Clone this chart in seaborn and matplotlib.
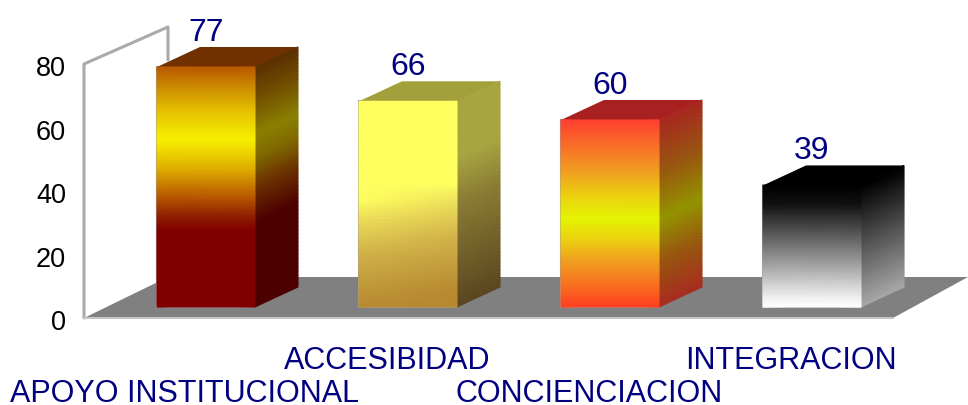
import numpy as np
import matplotlib
matplotlib.use("Agg")
import matplotlib.pyplot as plt
from matplotlib.colors import LinearSegmentedColormap
from matplotlib.patches import Polygon
import seaborn as sns

categories = ["APOYO INSTITUCIONAL", "ACCESIBIDAD", "CONCIENCIACION", "INTEGRACION"]
values = [77, 66, 60, 39]
y_ticks = [0, 20, 40, 60, 80]

# gradient stops, bottom to top of each bar
front_stops = [
    [(0, "#800000"), (0.32, "#800000"), (0.38, "#902000"), (0.46, "#b85800"), (0.58, "#e0b000"),
     (0.7, "#f8f000"), (0.82, "#e4c000"), (0.92, "#cc8a00"), (1, "#b85a00")],
    [(0, "#b88a30"), (0.25, "#d0b048"), (0.45, "#f0e45c"), (0.52, "#ffff60"), (1, "#ffff60")],
    [(0, "#ff4020"), (0.12, "#f87020"), (0.25, "#f0a020"), (0.36, "#ecd010"), (0.47, "#e4f400"),
     (0.6, "#ecd010"), (0.72, "#f0a020"), (0.86, "#f87028"), (1, "#ff4030")],
    [(0, "#ffffff"), (0.08, "#f0f0f0"), (0.85, "#111111"), (1, "#000000")],
]
side_stops = [
    [(0, "#4d0000"), (0.35, "#4d0000"), (0.5, "#6a3000"), (0.62, "#806800"), (0.72, "#8a8000"),
     (0.88, "#704c00"), (1, "#5a3000")],
    [(0, "#5c4620"), (0.5, "#8a7c34"), (0.72, "#a8a440"), (1, "#a8a440")],
    [(0, "#a82c20"), (0.25, "#985810"), (0.47, "#949400"), (0.72, "#985810"), (1, "#a82820")],
    [(0, "#a8a8a8"), (0.5, "#555555"), (0.9, "#111111"), (1, "#000000")],
]
top_colors = ["#703000", "#a3a03c", "#a82020", "#000000"]
front_tilt = [0, 0.08, 0, 0]

# layout of the fake 3d box, in pixels of the 968x405 picture
W, H = 968, 405
BASE_PX = 307
PX_PER_UNIT = 3.117
BAR_STEP = 202
FIRST_BAR_PX = 206
AX_LEFT, AX_BOTTOM = 84, 340
DEPTH_X = 43 / BAR_STEP
DEPTH_Y = 20 / PX_PER_UNIT
LABEL_SHIFT = 21 / BAR_STEP

sns.set_theme(style="white")
plt.rcParams["font.family"] = ["Liberation Sans", "DejaVu Sans"]


def px(x, y):
    return (x / W, 1 - y / H)


def shaded_face(ax, x0, x1, y0, y1, skew, stops, zorder, tilt=0):
    # vertical gradient on a quad, the right edge is moved up by skew
    cmap = LinearSegmentedColormap.from_list("face", stops)
    t = np.linspace(0, 1, 60)
    xx = np.column_stack([np.full_like(t, x0), np.full_like(t, x1)])
    yy = np.column_stack([y0 + t * (y1 - y0), y0 + t * (y1 - y0) + skew])
    cc = np.column_stack([t, t - tilt])
    ax.pcolormesh(xx, yy, cc, cmap=cmap, vmin=0, vmax=1, shading="gouraud", zorder=zorder)


fig = plt.figure(figsize=(W / 100, H / 100), dpi=100)
ax = fig.add_axes([AX_LEFT / W, 1 - AX_BOTTOM / H, 1 - AX_LEFT / W, AX_BOTTOM / H])
ax.patch.set_visible(False)

positions = np.arange(len(categories))
sns.barplot(x=positions, y=values, native_scale=True, color="white", edgecolor="#a0a0a0",
            linewidth=1.5, width=98 / BAR_STEP, ax=ax, zorder=1)

# floor and wall
fig.add_artist(Polygon([px(84, 318), px(168, 277), px(968, 277), px(893, 318)],
                       closed=True, transform=fig.transFigure, fc="#808080", ec="none", zorder=0))
fig.add_artist(plt.Line2D(*zip(px(84, 318), px(84, 64), px(168, 27), px(168, 60)),
                          transform=fig.transFigure, color="#aaaaaa", lw=2.2, zorder=0))
fig.add_artist(plt.Line2D(*zip(px(84, 318), px(893, 318)),
                          transform=fig.transFigure, color="#c4c4c4", lw=1.5, zorder=0))

for i, bar in enumerate(ax.containers[0]):
    x0, x1 = bar.get_x(), bar.get_x() + bar.get_width()
    h = bar.get_height()
    ax.add_patch(Polygon([(x0, h), (x0 + DEPTH_X, h + DEPTH_Y), (x1 + DEPTH_X, h + DEPTH_Y), (x1, h)],
                         closed=True, fc=top_colors[i], ec="none", zorder=3))
    shaded_face(ax, x1, x1 + DEPTH_X, 0, h, DEPTH_Y, side_stops[i], 3)
    shaded_face(ax, x0, x1, 0, h, 0, front_stops[i], 4, tilt=front_tilt[i])

ax.bar_label(ax.containers[0], labels=[str(v) for v in values], padding=14,
             color="#000080", fontsize=23, zorder=5)

ax.set_xlim(-(FIRST_BAR_PX - AX_LEFT) / BAR_STEP, (W - FIRST_BAR_PX) / BAR_STEP)
ax.set_ylim((BASE_PX - AX_BOTTOM) / PX_PER_UNIT, BASE_PX / PX_PER_UNIT)

# the value axis sits on the front of the box, not in the plane of the bars
ax.set_yticks([(BASE_PX - (320 - 3.17 * v)) / PX_PER_UNIT for v in y_ticks])
ax.set_yticklabels([str(v) for v in y_ticks], fontsize=19.5, color="black")
ax.set_xticks(positions - LABEL_SHIFT)
ax.set_xticklabels(categories, fontsize=22, color="#000080")
ax.tick_params(axis="y", length=0, pad=13)
ax.tick_params(axis="x", length=0)
# category labels sit on two staggered rows
for i, tick in enumerate(ax.xaxis.get_major_ticks()):
    tick.set_pad(28 if i % 2 == 0 else 4)
ax.set_xlabel("")
ax.set_ylabel("")
ax.grid(False)
sns.despine(ax=ax, left=True, bottom=True)

fig.savefig("out.png", dpi=100)
